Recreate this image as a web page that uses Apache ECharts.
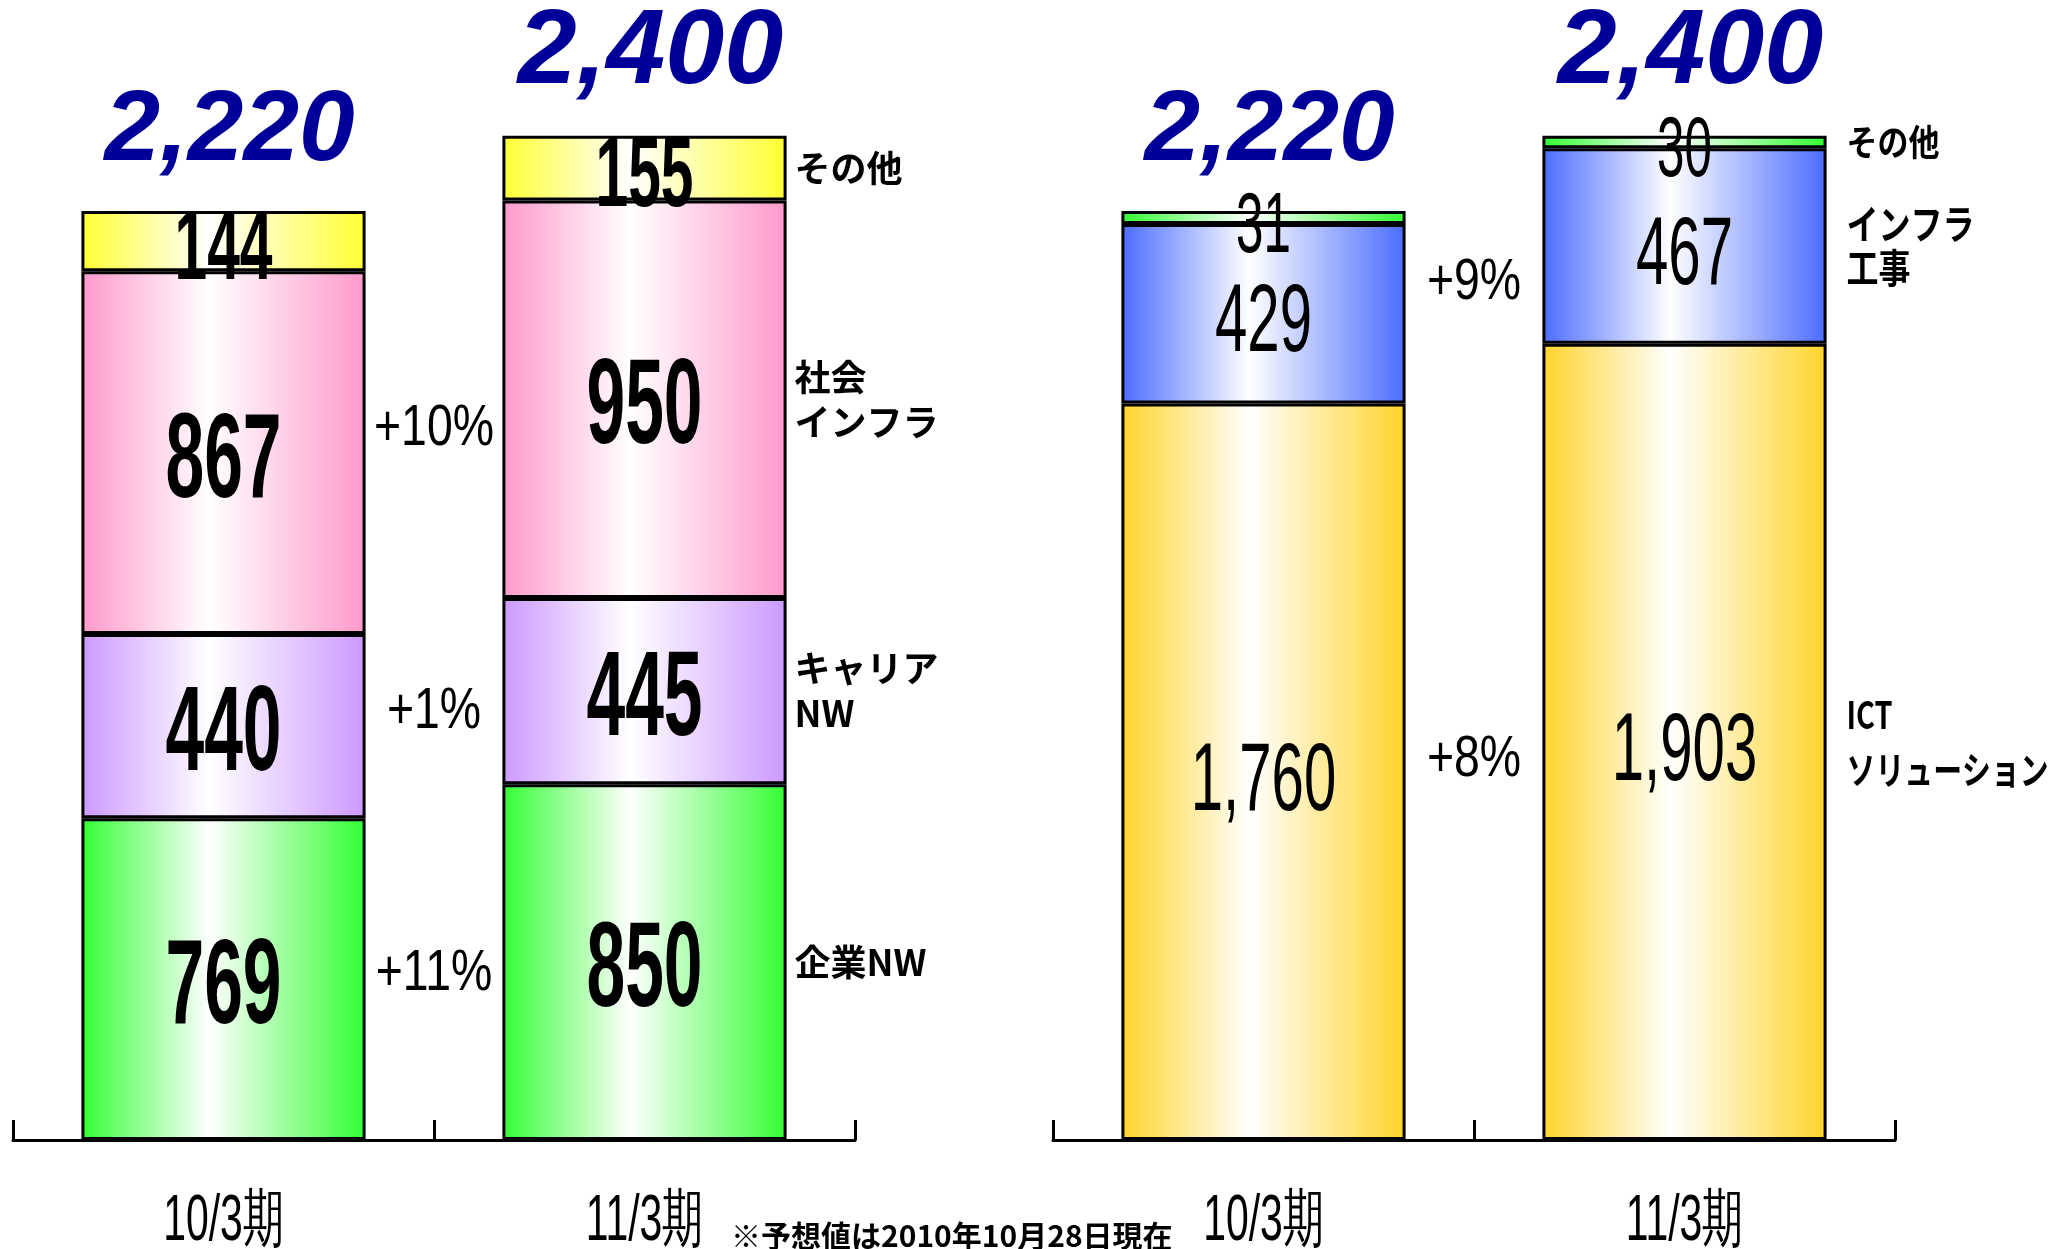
<!DOCTYPE html>
<html><head><meta charset="utf-8">
<script src="https://cdn.jsdelivr.net/npm/echarts@6/dist/echarts.min.js"></script>
<style>html,body{margin:0;padding:0;background:#fff}#c{width:2048px;height:1249px}</style>
</head><body><div id="c"></div>
<script>
// ---------- data ----------
const categories = ['10/3期', '11/3期'];

// left chart (segments bottom -> top)
const leftEnterpriseNW = [769, 850];
const leftCarrierNW = [440, 445];
const leftSocialInfra = [867, 950];
const leftOther = [144, 155];
const leftTotals = [2220, 2400];
const leftSegmentNames = ['企業NW', 'キャリア\nNW', '社会\nインフラ', 'その他'];
const leftGrowth = ['+11%', '+1%', '+10%', ''];

// right chart (segments bottom -> top)
const rightICT = [1760, 1903];
const rightInfraWork = [429, 467];
const rightOther = [31, 30];
const rightTotals = [2220, 2400];
const rightSegmentNames = ['ICT\nソリューション', 'インフラ\n工事', 'その他'];
const rightGrowth = ['+8%', '+9%', ''];

const footnote = '※予想値は2010年10月28日現在';

// ---------- styles ----------
const SANS = '"Liberation Sans",Arial,sans-serif';
const JP = '"Noto Sans CJK JP",sans-serif';
function grad(c) {
  return new echarts.graphic.LinearGradient(0, 0, 1, 0, [
    { offset: 0, color: c }, { offset: 0.45, color: '#ffffff' }, { offset: 1, color: c }
  ]);
}
const BAR_RATIO = 0.675;
function fmt(v) { return v.toLocaleString('en-US'); }

function mkSeries(name, data, color, gi) {
  return {
    name, type: 'bar', stack: 's' + gi, xAxisIndex: gi, yAxisIndex: gi,
    barWidth: (BAR_RATIO * 100) + '%', data,
    itemStyle: { color: grad(color), borderColor: '#000', borderWidth: 3 },
    label: { show: false },
    emphasis: { disabled: true }, animation: false
  };
}

const chart = echarts.init(document.getElementById('c'), null, { renderer: 'canvas' });
const option = {
  backgroundColor: '#fff',
  animation: false,
  grid: [
    { left: 13, right: 1193, top: 52, bottom: 109 },
    { left: 1053, right: 153, top: 52, bottom: 109 }
  ],
  xAxis: [0, 1].map(i => ({
    type: 'category', gridIndex: i, data: categories,
    axisLine: { show: true, lineStyle: { color: '#000', width: 3 } },
    axisTick: { show: true, inside: true, length: 20, alignWithLabel: false, interval: 0, lineStyle: { color: '#000', width: 3 } },
    axisLabel: { show: false }
  })),
  yAxis: [0, 1].map(i => ({
    type: 'value', gridIndex: i, min: 0, max: 2600, show: false, splitLine: { show: false }
  })),
  series: [
    mkSeries('企業NW', leftEnterpriseNW, '#33ff33', 0),
    mkSeries('キャリアNW', leftCarrierNW, '#cc99ff', 0),
    mkSeries('社会インフラ', leftSocialInfra, '#ff99cc', 0),
    mkSeries('その他', leftOther, '#ffff33', 0),
    mkSeries('ICTソリューション', rightICT, '#ffd42a', 1),
    mkSeries('インフラ工事', rightInfraWork, '#4a6cff', 1),
    mkSeries('その他(右)', rightOther, '#33ff33', 1)
  ]
};
chart.setOption(option);

// ---------- texts positioned via library scales ----------
function px(gi, cat, v) { return chart.convertToPixel({ gridIndex: gi }, [cat, v]); }
const graphics = [];
function addText(x, y, text, font, opts) {
  opts = opts || {};
  graphics.push({
    type: 'text', x, y, silent: true, z: 100,
    scaleX: opts.sx || 1, scaleY: opts.sy || 1,
    style: {
      text, font, fill: opts.fill || '#000',
      textAlign: opts.align || 'center', textVerticalAlign: opts.v || 'middle',
      lineHeight: opts.lh
    }
  });
}
function annotate(gi, segs, names, growth, totals, cfg) {
  const c0 = px(gi, 0, 0), c1 = px(gi, 1, 0);
  const band = c1[0] - c0[0];
  const barRight = c1[0] + band * BAR_RATIO / 2;
  const mid = (c0[0] + c1[0]) / 2;
  const cum = [0, 0];
  segs.forEach((s, k) => {
    const ys = [0, 1].map(i => {
      const m = cum[i] + s[i] / 2;
      cum[i] += s[i];
      return px(gi, i, m)[1];
    });
    // values inside bars
    [0, 1].forEach(i => {
      const small = s[i] < 200;
      const size = small ? cfg.smallSize : cfg.bigSize;
      addText([c0, c1][i][0], ys[i] + 11, fmt(s[i]), cfg.valWeight + ' ' + size + 'px ' + SANS,
        { sx: small ? cfg.smallSx : cfg.bigSx });
    });
    // segment name to the right of the second bar
    const nf = cfg.nameFonts[k];
    addText(barRight + cfg.nameGap, ys[1], names[k], nf.font, { align: 'left', sx: nf.sx, lh: nf.lh });
    // growth rate between the bars
    if (growth[k]) addText(mid, (ys[0] + ys[1]) / 2 + 3, growth[k], '58px ' + SANS, { sx: 0.8 });
  });
  // totals above bars
  totals.forEach((t, i) => {
    const top = px(gi, i, t);
    addText(top[0] + 6, top[1] - 29, fmt(t), 'italic bold ' + (i ? 106 : 100) + 'px ' + SANS,
      { fill: '#000099', v: 'bottom' });
  });
  // category labels
  categories.forEach((c, i) => {
    addText(px(gi, i, 0)[0], 1190, c, '64px ' + SANS, { v: 'top', sx: 0.64 });
  });
}
const leftSegs = [leftEnterpriseNW, leftCarrierNW, leftSocialInfra, leftOther];
const rightSegs = [rightICT, rightInfraWork, rightOther];
annotate(0, leftSegs.map(a => [a[0], a[1]]), leftSegmentNames, leftGrowth, leftTotals, {
  valWeight: 'bold', bigSize: 120, bigSx: 0.58, smallSize: 98, smallSx: 0.6, nameGap: 8,
  nameFonts: [0, 1, 2, 3].map(() => ({ font: 'bold 36px ' + JP, lh: 45, sx: 1 }))
});
annotate(1, rightSegs.map(a => [a[0], a[1]]), rightSegmentNames, rightGrowth, rightTotals, {
  valWeight: 'normal', bigSize: 97, bigSx: 0.6, smallSize: 85, smallSx: 0.58, nameGap: 20,
  nameFonts: [
    { font: 'bold 38px ' + JP, lh: 55, sx: 0.76 },
    { font: 'bold 40px ' + JP, lh: 44, sx: 0.8 },
    { font: 'bold 36px ' + JP, lh: 44, sx: 0.86 }
  ]
});
addText(731, 1236, footnote, 'bold 30px ' + JP, { align: 'left' });
chart.setOption({ graphic: graphics });
</script>
</body></html>
